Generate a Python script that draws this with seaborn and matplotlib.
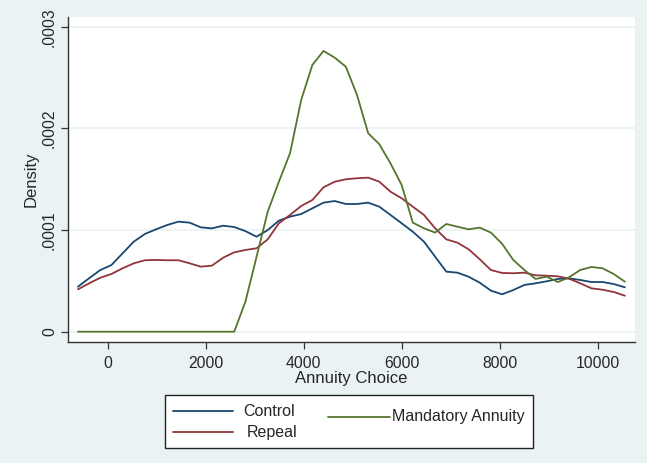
import numpy as np
import pandas as pd
import seaborn as sns
import matplotlib.pyplot as plt
from matplotlib.lines import Line2D
from matplotlib.patches import Rectangle

# Kernel density evaluation grid (annuity amount)
annuity = [-613 + 228 * i for i in range(50)]

# Densities, in units of 1e-4
control = [0.443, 0.526, 0.607, 0.656, 0.772, 0.886, 0.962, 1.008, 1.050, 1.083,
           1.073, 1.027, 1.017, 1.043, 1.030, 0.990, 0.935, 1.000, 1.093, 1.132,
           1.158, 1.214, 1.270, 1.286, 1.257, 1.257, 1.270, 1.230, 1.149, 1.067,
           0.984, 0.886, 0.738, 0.591, 0.581, 0.541, 0.482, 0.404, 0.368, 0.410,
           0.460, 0.476, 0.496, 0.519, 0.525, 0.509, 0.489, 0.489, 0.469, 0.437]
repeal = [0.417, 0.476, 0.531, 0.568, 0.624, 0.673, 0.703, 0.706, 0.703, 0.703,
          0.673, 0.640, 0.650, 0.728, 0.781, 0.804, 0.821, 0.909, 1.067, 1.149,
          1.237, 1.296, 1.421, 1.476, 1.500, 1.510, 1.516, 1.476, 1.378, 1.313,
          1.230, 1.149, 1.018, 0.909, 0.876, 0.811, 0.713, 0.607, 0.578, 0.575,
          0.581, 0.555, 0.551, 0.545, 0.522, 0.476, 0.427, 0.413, 0.391, 0.354]
mandatory = [0, 0, 0, 0, 0, 0, 0, 0, 0, 0,
             0, 0, 0, 0, 0, 0.295, 0.738, 1.181, 1.476, 1.756,
             2.281, 2.625, 2.763, 2.697, 2.608, 2.330, 1.953, 1.845, 1.657, 1.444,
             1.073, 1.018, 0.975, 1.060, 1.033, 1.008, 1.024, 0.975, 0.865, 0.706,
             0.607, 0.519, 0.542, 0.489, 0.535, 0.607, 0.637, 0.624, 0.568, 0.492]

groups = ["Control", "Repeal", "Mandatory Annuity"]
colors = ["#1a476f", "#90353b", "#55752f"]

xticks = [0, 2000, 4000, 6000, 8000, 10000]
yticks = [0, 0.0001, 0.0002, 0.0003]
ytick_labels = ["0", ".0001", ".0002", ".0003"]

df = pd.concat([
    pd.DataFrame({"Annuity Choice": annuity,
                  "Density": np.array(vals) * 1e-4,
                  "group": g})
    for g, vals in zip(groups, [control, repeal, mandatory])
], ignore_index=True)

bg = "#eaf2f3"
sns.set_theme(style="white")
plt.rcParams["font.family"] = ["Liberation Sans", "DejaVu Sans"]

fig = plt.figure(figsize=(6.47, 4.63), dpi=100, facecolor=bg)
ax = fig.add_axes([68 / 647, 1 - 342 / 463, (635 - 68) / 647, (342 - 17) / 463])
ax.set_facecolor("white")

for y in yticks:
    ax.axhline(y, color=bg, lw=1.2, zorder=0)

sns.lineplot(data=df, x="Annuity Choice", y="Density", hue="group",
             hue_order=groups, palette=colors, linewidth=1.3, ax=ax,
             legend=False, sort=False)

ax.set_xlim(-817, 10766)
ax.set_ylim(-1.014e-5, 3.097e-4)
ax.set_xticks(xticks)
ax.set_xticklabels([str(t) for t in xticks], fontsize=11.3)
ax.set_yticks(yticks)
ax.set_yticklabels(ytick_labels, fontsize=11.3, rotation=90, va="center")
ax.tick_params(axis="both", direction="out", length=5, width=0.9,
               color="#333333", left=True, bottom=True)
ax.tick_params(axis="x", pad=5)
ax.tick_params(axis="y", pad=3)
for side in ["top", "right"]:
    ax.spines[side].set_visible(False)
for side in ["left", "bottom"]:
    ax.spines[side].set_color("#333333")
    ax.spines[side].set_linewidth(1.0)

ax.set_xlabel("Annuity Choice", fontsize=12, labelpad=0)
ax.set_ylabel("Density", fontsize=12, labelpad=2)

# Legend box drawn in figure pixels
W, H = 647, 463


def fx(px):
    return px / W


def fy(py):
    return 1 - py / H


fig.add_artist(Rectangle((fx(165), fy(448)), fx(533) - fx(165), fy(395) - fy(448),
                         transform=fig.transFigure, facecolor="white",
                         edgecolor="#222222", lw=1.0))
entries = [(groups[0], colors[0], 173, 233, 411, 243),
           (groups[1], colors[1], 173, 233, 432, 247),
           (groups[2], colors[2], 328, 390, 417, 392)]
for label, c, x0, x1, yy, tx in entries:
    fig.add_artist(Line2D([fx(x0), fx(x1)], [fy(yy), fy(yy)],
                          transform=fig.transFigure, color=c, lw=1.3))
    fig.text(fx(tx), fy(yy), label, fontsize=11.5, va="center", ha="left")

fig.savefig("out.png", dpi=100, facecolor=bg)
